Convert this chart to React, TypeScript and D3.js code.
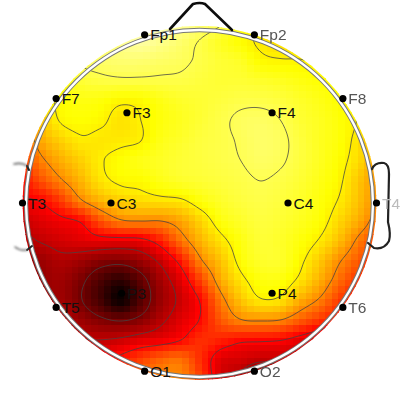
import React from 'react';
import * as d3 from 'd3';

const electrodes = ['Fp1', 'Fp2', 'F7', 'F3', 'F4', 'F8', 'T3', 'C3', 'C4', 'T4', 'T5', 'P3', 'P4', 'T6', 'O1', 'O2'];
const electrodeX = [-0.31, 0.31, -0.81, -0.41, 0.41, 0.81, -1, -0.5, 0.5, 1, -0.81, -0.44, 0.41, 0.81, -0.31, 0.31];
const electrodeY = [0.95, 0.95, 0.59, 0.51, 0.51, 0.59, 0, 0, 0, 0, -0.59, -0.51, -0.51, -0.59, -0.95, -0.95];
const fadedLabels = ['Fp2', 'F8', 'T4', 'T6', 'O2'];

// colour position (x100), one row per 20px of the picture
const surface = [
  [84, 84, 84, 86, 88, 90, 92, 94, 94, 92, 88, 84, 78, 74, 72, 71, 70, 70, 70, 70, 70],
  [84, 84, 84, 86, 88, 90, 92, 94, 94, 92, 88, 84, 78, 74, 72, 71, 70, 70, 70, 70, 70],
  [82, 82, 82, 82, 83, 86, 89, 91, 89, 86, 82.5, 78.5, 75, 72, 70, 70, 70, 70, 70, 70, 70],
  [80, 80, 80, 80, 83.5, 85, 86, 86, 85, 84, 82, 80, 78.5, 74.5, 73.5, 73.3, 72, 70, 70, 70, 70],
  [72, 72, 72, 76, 80, 81.5, 82, 82, 82, 82, 81, 80, 80, 79, 78, 76.5, 75, 73.5, 70, 68, 68],
  [66, 66, 70, 74.5, 76.5, 76, 74, 74.5, 77, 79, 80, 81, 82, 82, 81, 79, 77, 74.5, 71, 66, 64],
  [58, 58, 66.5, 73.5, 75, 74, 71, 73, 76, 78, 80, 82, 84, 84.5, 83, 80, 78, 75.5, 72, 66, 62],
  [50, 50, 62, 68, 72, 71.5, 72, 73, 77, 79, 81, 82, 83.5, 85, 84, 81, 78, 75.5, 70, 62, 58],
  [45, 45, 56, 63, 68, 72.5, 75, 77, 78.5, 80, 81, 82, 83, 84.5, 83.5, 81, 78, 74.5, 69, 60, 54],
  [40, 40, 49, 57, 64, 71, 74, 74.5, 77, 79, 80, 81, 82, 83, 82, 80, 77, 73.5, 66, 58, 50],
  [37, 37, 38.5, 46, 57, 64, 68, 70, 71, 72, 76, 79, 81, 82, 81, 79, 76, 72, 65, 56, 46],
  [30, 30, 33, 36, 39, 50, 57, 58, 58, 62, 69, 76, 79, 81, 80, 78, 75, 69, 62, 52, 42],
  [26, 26, 28.5, 31, 33, 34.5, 34.5, 35.5, 42, 54, 64, 71, 76.5, 80, 79, 76, 72, 65, 55, 47, 38],
  [23, 23, 23, 26, 24, 20.5, 19.5, 23, 30, 41, 57, 66, 75, 79, 79, 74, 67, 58, 50, 42, 34],
  [22, 22, 22, 23.5, 18.5, 11.5, 7, 14, 24, 33, 47, 62, 71, 76, 76, 71, 63, 53, 44, 36, 30],
  [21, 21, 21, 23.5, 17.5, 10, 2, 12, 22.5, 30, 39, 55, 66, 72, 71, 63, 56, 46, 38, 33, 28],
  [22, 22, 22, 26.5, 23, 19, 17, 20, 26.5, 33, 39, 50, 57, 58, 57, 51, 45, 39, 32, 28, 26],
  [26, 26, 27, 28.5, 28.5, 28.5, 30, 33, 35, 38.5, 44, 42, 39, 38.5, 37.5, 34, 30, 29, 29, 29, 29],
  [32, 32, 32, 33, 34, 36, 41, 47, 52, 54, 44, 33, 31, 28.5, 29.5, 30, 29, 29, 29, 29, 29],
  [36, 36, 36, 36, 37, 38, 46, 52, 56, 57, 47, 32, 26, 18, 25, 29, 29, 29, 29, 29, 29],
  [36, 36, 36, 36, 37, 38, 46, 52, 56, 57, 47, 32, 26, 18, 25, 29, 29, 29, 29, 29, 29],
];

const contourLevels = [17, 28, 38, 58, 73, 83];
const hotStops = [0, 37.5, 75, 100];
const hotColors = ['#000000', '#ff0000', '#ffff00', '#ffffff'];

const size = 400;
const cx = 199.5;
const cy = 203;
const headR = 177;
const gridStep = 20;
const cellSize = 6.5;
const fineStep = 2;

const color = d3.scaleLinear<string>().domain(hotStops).range(hotColors).clamp(true);
const headX = d3.scaleLinear().domain([-1, 1]).range([cx - headR, cx + headR]);
const headY = d3.scaleLinear().domain([-1, 1]).range([cy + headR, cy - headR]);

function catmull(a: number, b: number, c: number, d: number, t: number) {
  return 0.5 * (2 * b + (c - a) * t + (2 * a - 5 * b + 4 * c - d) * t * t + (3 * b - a - 3 * c + d) * t * t * t);
}

// smooth lookup of the surface at a pixel
function surfaceAt(px: number, py: number) {
  const last = surface.length - 1;
  const gx = Math.max(0, Math.min(last - 0.001, px / gridStep));
  const gy = Math.max(0, Math.min(last - 0.001, py / gridStep));
  const ix = Math.floor(gx);
  const iy = Math.floor(gy);
  const at = (r: number, c: number) => surface[Math.max(0, Math.min(last, r))][Math.max(0, Math.min(last, c))];
  const rows = [-1, 0, 1, 2].map(dr => catmull(at(iy + dr, ix - 1), at(iy + dr, ix), at(iy + dr, ix + 1), at(iy + dr, ix + 2), gx - ix));
  return catmull(rows[0], rows[1], rows[2], rows[3], gy - iy);
}

export default function App() {
  const cells = d3.range(Math.ceil(size / cellSize)).flatMap(j =>
    d3.range(Math.ceil(size / cellSize)).map(i => ({
      x: i * cellSize,
      y: j * cellSize,
      v: surfaceAt((i + 0.5) * cellSize, (j + 0.5) * cellSize),
    }))
  );

  const n = Math.round(size / fineStep);
  const values = d3.range(n).flatMap(j => d3.range(n).map(i => surfaceAt(i * fineStep, j * fineStep)));
  const contours = d3.contours().size([n, n]).thresholds(contourLevels)(values);
  const path = d3.geoPath(d3.geoTransform({
    point(x, y) {
      this.stream.point(x * fineStep, y * fineStep);
    },
  }));

  return (
    <svg width={size} height={size} style={{ position: 'absolute', left: 0, top: 0, background: '#fff' }}>
      <defs>
        <clipPath id="head">
          <circle cx={cx} cy={cy} r={headR} />
        </clipPath>
        <filter id="soft" x="-20%" y="-20%" width="140%" height="140%">
          <feGaussianBlur stdDeviation="0.5" />
        </filter>
        <filter id="softer" x="-50%" y="-50%" width="200%" height="200%">
          <feGaussianBlur stdDeviation="1" />
        </filter>
      </defs>

      <g clipPath="url(#head)" shapeRendering="crispEdges">
        {cells.map((c, i) => (
          <rect key={i} x={c.x} y={c.y} width={cellSize + 0.5} height={cellSize + 0.5} fill={color(c.v)} />
        ))}
      </g>

      <g clipPath="url(#head)" fill="none" stroke="#444" strokeWidth={0.9} opacity={0.85}>
        {contours.map(c => (
          <path key={c.value} d={path(c) ?? ''} />
        ))}
      </g>

      <circle cx={cx} cy={cy + 0.5} r={173.5} fill="none" stroke="#777" strokeWidth={4.4} filter="url(#soft)" />
      <circle cx={cx} cy={cy + 0.5} r={173.5} fill="none" stroke="#fff" strokeWidth={2.4} />

      <g fill="none" strokeLinecap="round" strokeLinejoin="round" filter="url(#soft)">
        <path d="M170 29 L193 4 Q200 2 205 4 L232 30" stroke="#111" strokeWidth={2.6} />
        <path d="M372 169 Q375 162 384 163 Q389 164 389 174 L388 222 Q391 234 389 241 Q384 250 374 248 L368 243" stroke="#222" strokeWidth={2.2} />
        <path d="M29 170 L27 166" stroke="#222" strokeWidth={2} />
        <path d="M32 246 L27 250" stroke="#222" strokeWidth={2} />
      </g>
      <g fill="none" stroke="#666" strokeLinecap="round" filter="url(#softer)">
        <path d="M27 166 Q22 162 14 164" strokeWidth={1.6} />
        <path d="M27 250 Q20 251 15 247" strokeWidth={1.6} />
      </g>

      {electrodes.map((name, i) => {
        const x = headX(electrodeX[i]);
        const y = headY(electrodeY[i]);
        const faded = fadedLabels.includes(name);
        return (
          <g key={name}>
            <circle cx={x} cy={y} r={3.6} fill="#000" />
            <text
              x={x + 5.5}
              y={y + 5.5}
              fontFamily="'Liberation Sans', Arial, sans-serif"
              fontSize={15.5}
              fill={name === 'T4' ? '#bbb' : faded ? '#555' : '#111'}
              filter={faded ? 'url(#soft)' : undefined}
            >
              {name}
            </text>
          </g>
        );
      })}
    </svg>
  );
}
